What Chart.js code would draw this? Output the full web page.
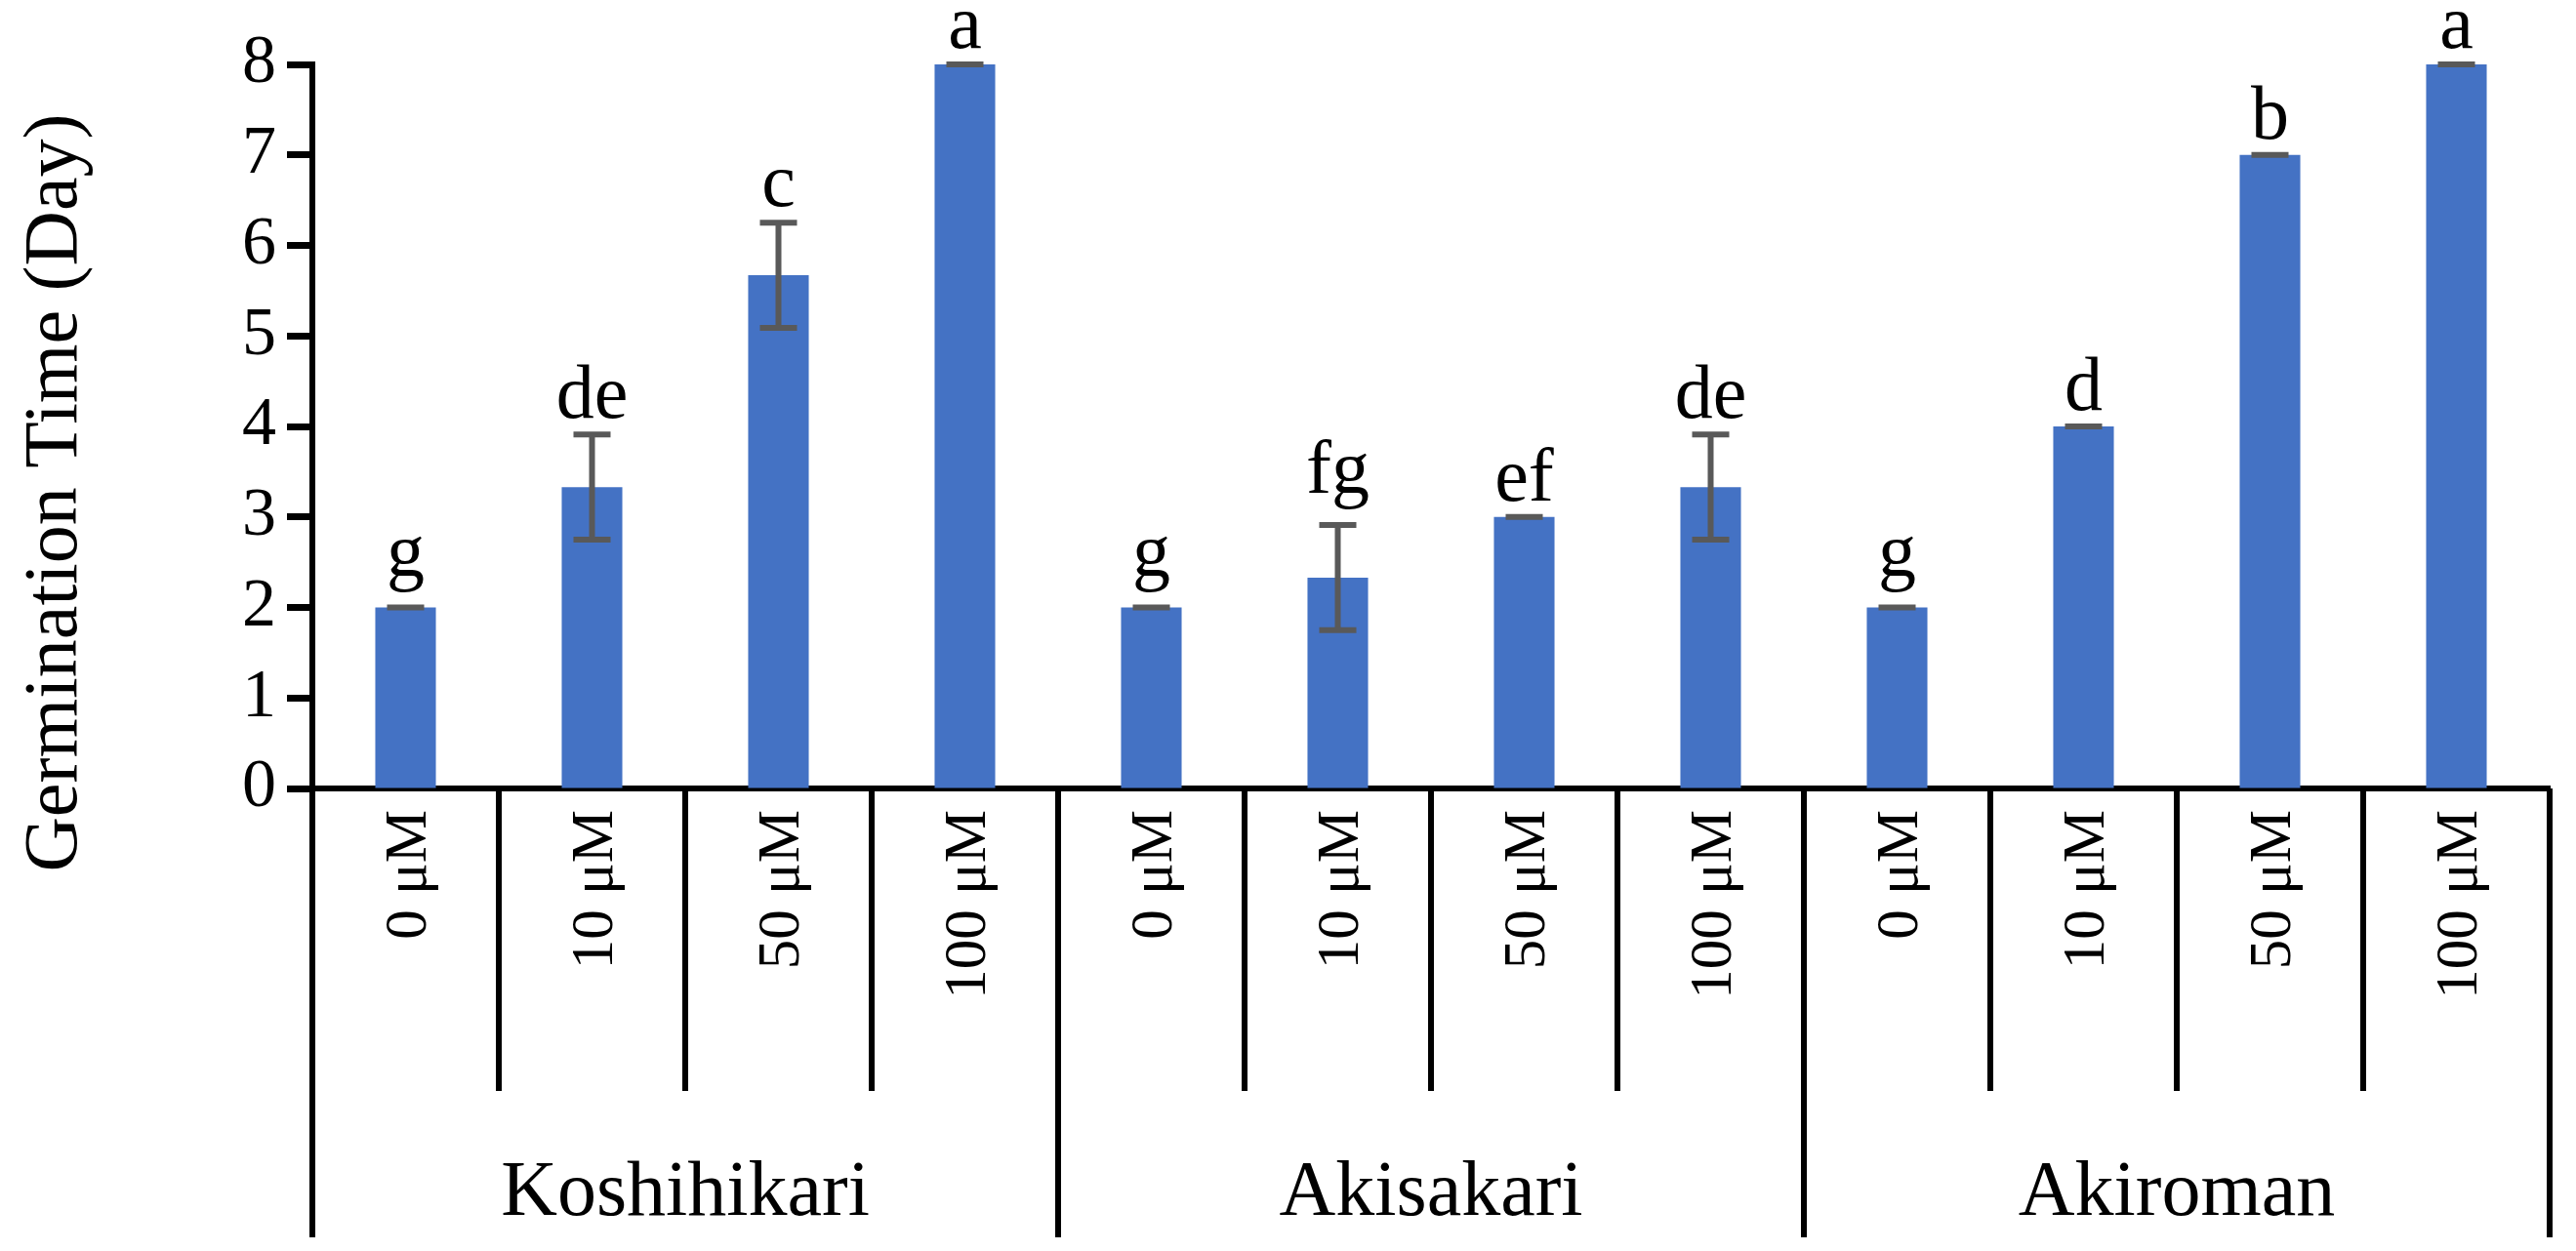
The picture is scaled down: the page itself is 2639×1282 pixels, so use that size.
<!DOCTYPE html>
<html>
<head>
<meta charset="utf-8">
<script src="https://cdn.jsdelivr.net/npm/chart.js@4.4.1/dist/chart.umd.min.js"></script>
<style>
html, body { margin: 0; padding: 0; background: #fff; }
canvas { display: block; }
</style>
</head>
<body>
<canvas id="chart" width="2639" height="1282"></canvas>
<script>
var cultivars = ['Koshihikari', 'Akisakari', 'Akiroman'];
var doses = ['0 μM', '10 μM', '50 μM', '100 μM'];
var meanDays = [2, 3.33, 5.67, 8, 2, 2.33, 3, 3.33, 2, 4, 7, 8];
var sdDays = [0, 0.58, 0.58, 0, 0, 0.58, 0, 0.58, 0, 0, 0, 0];
var letters = ['g', 'de', 'c', 'a', 'g', 'fg', 'ef', 'de', 'g', 'd', 'b', 'a'];
var yTitle = 'Germination Time (Day)';

var FONT = "'Liberation Serif', 'Times New Roman', serif";

// one label per bar: dose inside cultivar
var labels = [];
for (var c = 0; c < cultivars.length; c++) {
    for (var d = 0; d < doses.length; d++) {
        labels.push(doses[d]);
    }
}

/* error bars, letters, two-level category axis, y title */
var extras = {
    id: 'extras',
    afterDraw: function(chart) {
        var ctx = chart.ctx;
        var xs = chart.scales.x;
        var ys = chart.scales.y;
        var area = chart.chartArea;
        var step = xs.getPixelForValue(1) - xs.getPixelForValue(0);

        ctx.save();

        // error bars
        ctx.strokeStyle = '#595959';
        ctx.lineWidth = 6;
        var capHalf = 19;
        for (var i = 0; i < meanDays.length; i++) {
            var x = xs.getPixelForValue(i);
            var top = ys.getPixelForValue(meanDays[i] + sdDays[i]);
            var bot = ys.getPixelForValue(meanDays[i] - sdDays[i]);
            ctx.beginPath();
            if (sdDays[i] > 0) {
                ctx.moveTo(x, top); ctx.lineTo(x, bot);
                ctx.moveTo(x - capHalf, bot); ctx.lineTo(x + capHalf, bot);
            }
            ctx.moveTo(x - capHalf, top); ctx.lineTo(x + capHalf, top);
            ctx.stroke();
        }

        // significance letters, glyph bottom a little above the cap
        ctx.fillStyle = '#000';
        ctx.font = '78px ' + FONT;
        ctx.textAlign = 'center';
        ctx.textBaseline = 'alphabetic';
        for (var i = 0; i < letters.length; i++) {
            var x = xs.getPixelForValue(i);
            var top = ys.getPixelForValue(meanDays[i] + sdDays[i]) - 3;
            var desc = Math.max(0, ctx.measureText(letters[i]).actualBoundingBoxDescent);
            ctx.fillText(letters[i], x, top - 13 - desc);
        }

        // category separators
        ctx.strokeStyle = '#000';
        ctx.lineWidth = 6;
        for (var k = 0; k <= labels.length; k++) {
            var bx = xs.getPixelForValue(k) - step / 2;
            var len = (k % doses.length == 0) ? 1268 : 1118;
            ctx.beginPath();
            ctx.moveTo(bx, area.bottom);
            ctx.lineTo(bx, len);
            ctx.stroke();
        }

        // dose labels, rotated
        ctx.font = '61px ' + FONT;
        ctx.textAlign = 'right';
        ctx.textBaseline = 'middle';
        for (var i = 0; i < labels.length; i++) {
            var x = xs.getPixelForValue(i);
            ctx.save();
            ctx.translate(x + 4, 830);
            ctx.rotate(-Math.PI / 2);
            ctx.fillText(labels[i], 0, 0);
            ctx.restore();
        }

        // cultivar labels
        ctx.font = '80px ' + FONT;
        ctx.textAlign = 'center';
        ctx.textBaseline = 'alphabetic';
        for (var c = 0; c < cultivars.length; c++) {
            var x0 = xs.getPixelForValue(c * doses.length);
            var x1 = xs.getPixelForValue(c * doses.length + doses.length - 1);
            ctx.fillText(cultivars[c], (x0 + x1) / 2, 1245);
        }

        // y axis title
        ctx.font = '78px ' + FONT;
        ctx.textAlign = 'center';
        ctx.textBaseline = 'middle';
        ctx.save();
        ctx.translate(58, 505);
        ctx.rotate(-Math.PI / 2);
        ctx.fillText(yTitle, 0, 0);
        ctx.restore();

        ctx.restore();
    }
};

var ctx = document.getElementById('chart').getContext('2d');
var chart = new Chart(ctx, {
    type: 'bar',
    data: {
        labels: labels,
        datasets: [{
            data: meanDays,
            backgroundColor: '#4472C4',
            borderWidth: 0,
            barPercentage: 0.325,
            categoryPercentage: 1.0
        }]
    },
    options: {
        responsive: false,
        animation: false,
        devicePixelRatio: 1,
        layout: {
            padding: { left: 0, right: 27, top: 66, bottom: 0 }
        },
        plugins: {
            legend: { display: false },
            tooltip: { enabled: false }
        },
        scales: {
            x: {
                ticks: { display: false },
                grid: { display: false },
                border: { display: true, color: '#000', width: 6 },
                afterFit: function(s) { s.height = 474; }
            },
            y: {
                min: 0,
                max: 8,
                ticks: {
                    stepSize: 1,
                    color: '#000',
                    padding: 11,
                    font: { family: FONT, size: 70 }
                },
                grid: {
                    drawOnChartArea: false,
                    drawTicks: true,
                    tickLength: 26,
                    tickWidth: 7,
                    tickColor: '#000'
                },
                border: { display: true, color: '#000', width: 6 },
                afterFit: function(s) { s.width = 320; }
            }
        }
    },
    plugins: [extras]
});
</script>
</body>
</html>
